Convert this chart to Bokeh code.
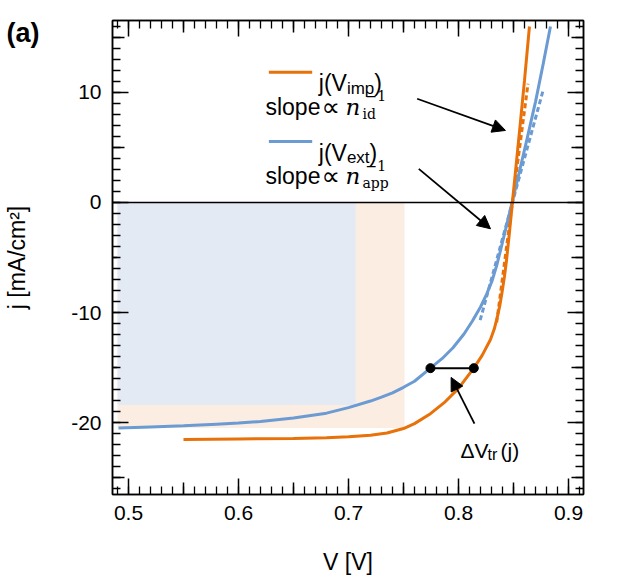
import numpy as np
from bokeh.plotting import figure
from bokeh.models import (Range1d, LinearAxis, FixedTicker, Span, Label, Arrow,
                          NormalHead, CustomJSTickFormatter)
from bokeh.embed import file_html
from bokeh.resources import INLINE

# ---------------- data ----------------
# j(V_imp): current vs. implied voltage (orange)
V_imp = [0.55, 0.60, 0.65, 0.68, 0.70, 0.72, 0.735, 0.75, 0.76, 0.7745, 0.787,
         0.800, 0.8139, 0.8215, 0.8291, 0.8325, 0.8352, 0.8375, 0.8397, 0.8418,
         0.8436, 0.8465, 0.8490, 0.852, 0.856, 0.860, 0.8645]
j_imp = [-21.55, -21.5, -21.45, -21.38, -21.3, -21.15, -20.95, -20.55, -20.1,
         -19.2, -18.2, -16.9, -15.06, -13.9, -12.45, -11.5, -10.45, -9.4, -8.1,
         -6.7, -5.3, -2.55, 0.0, 3.0, 7.0, 11.1, 16.0]

# j(V_ext): current vs. external voltage (blue)
V_ext = [0.4909, 0.52, 0.55, 0.58, 0.60, 0.62, 0.65, 0.68, 0.70, 0.72, 0.73,
         0.74, 0.75, 0.76, 0.7745, 0.785, 0.795, 0.805, 0.8125, 0.82, 0.8255,
         0.8306, 0.8345, 0.8382, 0.8415, 0.8443, 0.8487, 0.852, 0.855, 0.862,
         0.870, 0.877, 0.8836]
j_ext = [-20.5, -20.4, -20.3, -20.15, -20.05, -19.9, -19.6, -19.15, -18.65,
         -18.05, -17.7, -17.3, -16.8, -16.25, -15.05, -14.2, -13.2, -11.95,
         -10.8, -9.5, -8.35, -7.1, -5.8, -4.35, -3.0, -1.83, 0.0, 1.38, 2.65,
         5.65, 9.15, 12.6, 16.0]

# dashed tangents at V_oc
tan_id_V = [0.8347, 0.8632]
tan_id_j = [-10.9, 10.8]
tan_app_V = [0.8197, 0.8772]
tan_app_j = [-10.7, 10.3]

# maximum-power rectangles (left edge, V_mpp, j_mpp)
rect_left = 0.49
mpp_imp_V, mpp_imp_j = 0.7509, -20.5
mpp_ext_V, mpp_ext_j = 0.7064, -18.4

# transport voltage loss at j
dV_j = [-15.06, -15.06]
dV_V = [0.7745, 0.8139]

# ticks
x_major = [0.5, 0.6, 0.7, 0.8, 0.9]
y_major = [-20, -10, 0, 10]
x_minor = [round(v, 2) for v in np.arange(0.49, 0.915, 0.01)]
y_minor = list(range(-26, 17))
x_mid = [0.55, 0.65, 0.75, 0.85]
y_mid = [-25, -15, -5, 5, 15]

# ---------------- styles ----------------
ORANGE = "#e8710a"
BLUE = "#6b9bd2"
ORANGE_L = "#fbede1"
BLUE_L = "#e3eaf4"
SANS = "Liberation Sans"
SERIF = "DejaVu Serif"

X0, X1 = 0.48545, 0.91364
Y0, Y1 = -26.545, 16.545

p = figure(frame_width=471, frame_height=474,
           x_range=Range1d(X0, X1), y_range=Range1d(Y0, Y1),
           output_backend="svg", toolbar_location=None,
           min_border_left=104, min_border_right=30,
           min_border_top=20, min_border_bottom=70)
p.xgrid.visible = False
p.ygrid.visible = False
p.outline_line_color = "black"
p.outline_line_width = 1.5
p.background_fill_color = "white"
p.border_fill_color = "white"


def style_axis(ax, ticks, minor, labels=True):
    ax.ticker = FixedTicker(ticks=ticks, minor_ticks=minor)
    ax.major_tick_in = 16
    ax.major_tick_out = 0
    ax.minor_tick_in = 8
    ax.minor_tick_out = 0
    ax.axis_line_width = 1.5
    ax.axis_line_color = "black"
    ax.major_tick_line_width = 1.5
    ax.minor_tick_line_width = 1.3
    ax.major_tick_line_color = "black"
    ax.minor_tick_line_color = "black"
    if labels:
        ax.major_label_text_font = SANS
        ax.major_label_text_font_size = "21px"
        ax.major_label_text_color = "black"
        ax.axis_label_text_font = SANS
        ax.axis_label_text_font_size = "23px"
        ax.axis_label_text_font_style = "normal"
        ax.axis_label_text_color = "black"
    else:
        ax.formatter = CustomJSTickFormatter(code="return ''")
        ax.major_label_text_font_size = "0px"
        ax.major_label_standoff = 0


xa = p.xaxis[0]
ya = p.yaxis[0]
style_axis(xa, x_major, x_minor)
style_axis(ya, y_major, y_minor)
xa.formatter = CustomJSTickFormatter(code="return tick.toFixed(1)")
ya.formatter = CustomJSTickFormatter(code="return tick.toFixed(0)")
xa.axis_label = "V [V]"
xa.major_label_standoff = 11
xa.axis_label_standoff = 26
ya.major_label_standoff = 11

top = LinearAxis()
right = LinearAxis()
style_axis(top, x_major, x_minor, labels=False)
style_axis(right, y_major, y_minor, labels=False)
p.add_layout(top, "above")
p.add_layout(right, "right")

# outer left axis: carries the panel tag "(a)" and the y-axis title
outer = LinearAxis(ticker=FixedTicker(ticks=[15.4], minor_ticks=[]),
                   formatter=CustomJSTickFormatter(code="return '(a)'"))
outer.axis_line_color = None
outer.major_tick_line_color = None
outer.minor_tick_line_color = None
outer.major_tick_in = 0
outer.major_tick_out = 0
outer.minor_tick_in = 0
outer.minor_tick_out = 0
outer.major_label_text_font = SANS
outer.major_label_text_font_size = "27px"
outer.major_label_text_font_style = "bold"
outer.major_label_text_color = "black"
outer.major_label_standoff = 29
outer.axis_label = "j [mA/cm²]"
outer.axis_label_text_font = SANS
outer.axis_label_text_font_size = "23px"
outer.axis_label_text_font_style = "normal"
outer.axis_label_text_color = "black"
outer.axis_label_standoff = -26
p.add_layout(outer, "left")

# medium ticks (every 0.05 V and every 5 mA/cm²), half inside the frame
p.scatter(x_mid, [Y0] * len(x_mid), marker="dash", size=24, angle=np.pi / 2,
          line_color="black", line_width=1.5)
p.scatter(x_mid, [Y1] * len(x_mid), marker="dash", size=24, angle=np.pi / 2,
          line_color="black", line_width=1.5)
p.scatter([X0] * len(y_mid), y_mid, marker="dash", size=24,
          line_color="black", line_width=1.5)
p.scatter([X1] * len(y_mid), y_mid, marker="dash", size=24,
          line_color="black", line_width=1.5)

# shaded power rectangles
p.quad(left=[rect_left], right=[mpp_imp_V], top=[0], bottom=[mpp_imp_j],
       fill_color=ORANGE_L, line_color=None)
p.quad(left=[rect_left], right=[mpp_ext_V], top=[0], bottom=[mpp_ext_j],
       fill_color=BLUE_L, line_color=None)

# zero line
p.add_layout(Span(location=0, dimension="width", line_color="black",
                  line_width=1.5))

# dashed tangents
p.line(tan_id_V, tan_id_j, line_color=ORANGE, line_width=3, line_dash="5 3")
p.line(tan_app_V, tan_app_j, line_color=BLUE, line_width=3, line_dash="5 3")

# curves
p.line(V_ext, j_ext, line_color=BLUE, line_width=3)
p.line(V_imp, j_imp, line_color=ORANGE, line_width=3)

# delta V segment with dots
p.line(dV_V, dV_j, line_color="black", line_width=2)
p.scatter(dV_V, dV_j, size=9, fill_color="black", line_color="black")

# legend keys
p.line([0.6276, 0.6670], [11.85, 11.85], line_color=ORANGE, line_width=3)
p.line([0.6276, 0.6670], [5.545, 5.545], line_color=BLUE, line_width=3)


def lab(x, y, t, font=SANS, size="23px", style="normal"):
    p.add_layout(Label(x=x, y=y, text=t, text_font=font, text_font_size=size,
                       text_font_style=style, text_baseline="alphabetic",
                       text_align="left", text_color="black"))


# legend group 1
lab(0.6730, 10.82, "j(V")
lab(0.69855, 10.36, "imp", size="17px")
lab(0.72345, 10.82, ")")
lab(0.6245, 8.68, "slope")
lab(0.67545, 8.68, "∝", font="DejaVu Sans", size="26px")
lab(0.69727, 8.68, "n", font=SERIF, size="23px", style="italic")
lab(0.71545, 9.75, "−1", font=SERIF, size="14px")
lab(0.71273, 8.0, "id", font=SERIF, size="14px")

# legend group 2
lab(0.6730, 4.545, "j(V")
lab(0.69855, 4.09, "ext", size="17px")
lab(0.71918, 4.545, ")")
lab(0.6245, 2.45, "slope")
lab(0.67545, 2.45, "∝", font="DejaVu Sans", size="26px")
lab(0.69727, 2.45, "n", font=SERIF, size="23px", style="italic")
lab(0.71545, 3.38, "−1", font=SERIF, size="14px")
lab(0.71273, 1.73, "app", font=SERIF, size="14px")

# delta V label
lab(0.8018, -22.55, "ΔV", size="21px")
lab(0.82636, -22.9, "tr", size="16px")
lab(0.83818, -22.55, "(j)", size="21px")

# arrows
for xs, ys, xe, ye in [(0.7624, 9.43, 0.8427, 6.55),
                       (0.7639, 3.06, 0.8291, -2.39),
                       (0.8145, -20.1, 0.7933, -15.9)]:
    p.add_layout(Arrow(end=NormalHead(size=13, fill_color="black",
                                      line_color="black", line_width=1),
                       x_start=xs, y_start=ys, x_end=xe, y_end=ye,
                       line_color="black", line_width=1.8))

open("out.html", "w").write(file_html(p, INLINE))
